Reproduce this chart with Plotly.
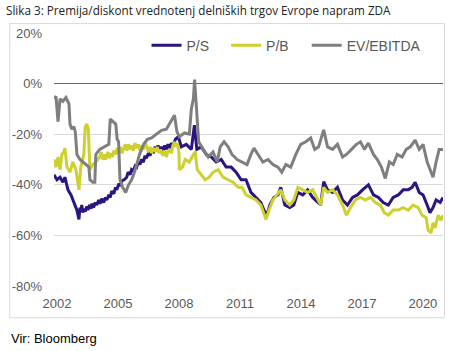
import plotly.graph_objects as go

# ---- data (decimal years, % premium/discount) ----
ev_t = [2001.85, 2001.95, 2002.05, 2002.15, 2002.29, 2002.44, 2002.59, 2002.64, 2002.73, 2002.83,
        2002.90, 2002.98, 2003.13, 2003.27, 2003.42, 2003.57, 2003.62, 2003.76, 2003.86, 2003.91,
        2004.10, 2004.30, 2004.55, 2004.62, 2004.74, 2004.89, 2004.96, 2005.03, 2005.10, 2005.23,
        2005.38, 2005.52, 2005.67, 2005.77, 2005.92, 2006.06, 2006.26, 2006.45, 2006.65, 2006.89,
        2007.14, 2007.38, 2007.58, 2007.78, 2007.90, 2008.02, 2008.27, 2008.51, 2008.61, 2008.71,
        2008.77, 2008.85, 2008.97, 2009.20, 2009.44, 2009.68, 2009.88, 2010.03, 2010.22, 2010.42,
        2010.61, 2010.86, 2011.10, 2011.35, 2011.54, 2011.69, 2011.89, 2012.13, 2012.38, 2012.62,
        2012.87, 2013.06, 2013.26, 2013.50, 2013.75, 2013.99, 2014.24, 2014.48, 2014.68, 2014.87,
        2015.12, 2015.31, 2015.56, 2015.80, 2016.05, 2016.24, 2016.49, 2016.73, 2016.93, 2017.12,
        2017.32, 2017.57, 2017.76, 2017.96, 2018.15, 2018.35, 2018.54, 2018.74, 2018.98, 2019.18,
        2019.38, 2019.62, 2019.82, 2020.01, 2020.21, 2020.35, 2020.50, 2020.65, 2020.80, 2020.99]
ev_v = [-6, -5, -15, -6, -7, -5.5, -8, -16, -18, -17,
        -19, -28, -30, -31, -32, -33, -38, -39, -39, -28,
        -26, -25, -24, -14, -15, -16, -22, -23, -38, -41,
        -43, -40, -38, -36, -32, -28, -24, -22, -21.5, -20,
        -18.5, -18, -15, -12.5, -19, -21, -19.5, -20, -10, -6,
        1.6, -8, -23, -26, -29, -27, -31, -25, -23, -25,
        -28, -30, -31, -32, -28, -25.5, -28, -31, -30, -32,
        -33, -35, -32, -33, -28, -24, -23, -21.5, -26, -25,
        -18.3, -25, -26, -24, -29, -28, -26, -24, -23, -26,
        -23.5, -28, -30, -33, -37.5, -31, -32, -28, -29, -26,
        -25, -22.3, -26, -24, -31, -34, -37, -31, -26, -26]

ps_t = [2001.85, 2002.00, 2002.15, 2002.29, 2002.39, 2002.54, 2002.69, 2002.83, 2002.98, 2003.08,
        2003.13, 2003.17, 2003.22, 2003.27, 2003.32, 2003.40, 2003.47, 2003.52, 2003.60, 2003.67,
        2003.71, 2003.80, 2003.88, 2003.96, 2004.05, 2004.12, 2004.20, 2004.30, 2004.38, 2004.45,
        2004.55, 2004.62, 2004.69, 2004.80, 2004.88, 2004.94, 2005.05, 2005.12, 2005.18, 2005.30,
        2005.43, 2005.50, 2005.60, 2005.67, 2005.75, 2005.85, 2005.92, 2006.00, 2006.08, 2006.16,
        2006.25, 2006.33, 2006.40, 2006.50, 2006.58, 2006.65, 2006.75, 2006.82, 2006.89, 2006.97,
        2007.05, 2007.14, 2007.22, 2007.30, 2007.38, 2007.46, 2007.55, 2007.63, 2007.70, 2007.83,
        2007.97, 2008.12, 2008.36, 2008.61, 2008.76, 2008.88, 2009.10, 2009.34, 2009.59,
        2009.83, 2010.08, 2010.32, 2010.57, 2010.81, 2011.06, 2011.30, 2011.54, 2011.79, 2012.03,
        2012.18, 2012.33, 2012.47, 2012.67, 2012.87, 2013.01, 2013.21, 2013.45, 2013.65, 2013.85,
        2014.09, 2014.33, 2014.58, 2014.82, 2014.97, 2015.12, 2015.31, 2015.56, 2015.80, 2016.05,
        2016.29, 2016.54, 2016.78, 2017.03, 2017.32, 2017.57, 2017.81, 2018.05, 2018.30, 2018.54,
        2018.79, 2019.03, 2019.28, 2019.47, 2019.62, 2019.82, 2020.01, 2020.21, 2020.35, 2020.50,
        2020.65, 2020.85, 2020.99]
ps_v = [-36, -38, -37, -39, -37, -42, -44, -47, -50, -53.7,
        -49, -50.5, -48, -51, -49.5, -50.5, -48.5, -50, -48, -49.5,
        -47.5, -49, -47, -48, -46, -47.5, -45.5, -47, -45, -46,
        -44, -45, -42.5, -43.5, -41, -42, -39.5, -40.5, -38.5, -38,
        -37, -35, -36, -34, -34.5, -32.5, -33, -31, -32, -30,
        -31, -28.5, -29.5, -27.5, -28.5, -26.5, -27, -25, -26, -24.5,
        -26.5, -25, -26.5, -24.5, -26, -24, -25.5, -23.5, -24.5, -22,
        -21, -25, -24, -26, -16.4, -26, -25, -28, -29,
        -31, -30, -33, -33, -35, -38, -38, -43, -45, -47,
        -50, -52, -48, -45, -44, -41, -48, -49, -48, -43,
        -44, -42, -45, -47, -48, -38.8, -42, -43, -41, -46,
        -48, -45, -44, -42, -40, -44, -45, -47, -48, -45,
        -44, -42, -42, -41, -39, -43, -44, -48, -51, -49,
        -46, -47, -45]

pb_t = [2001.85, 2001.95, 2002.05, 2002.15, 2002.24, 2002.34, 2002.39, 2002.49, 2002.64, 2002.78,
        2002.93, 2003.08, 2003.17, 2003.32, 2003.39, 2003.47, 2003.54, 2003.62, 2003.76, 2003.91,
        2004.10, 2004.18, 2004.25, 2004.32, 2004.40, 2004.50, 2004.58, 2004.65, 2004.72, 2004.80,
        2004.89, 2004.97, 2005.05, 2005.12, 2005.20, 2005.28, 2005.36, 2005.44, 2005.52, 2005.60,
        2005.67, 2005.75, 2005.83, 2005.92, 2006.00, 2006.08, 2006.16, 2006.26, 2006.34, 2006.42,
        2006.50, 2006.58, 2006.65, 2006.75, 2006.85, 2006.93, 2007.02, 2007.10, 2007.20, 2007.30,
        2007.38, 2007.46, 2007.55, 2007.63, 2007.70, 2007.78, 2007.85, 2007.92, 2008.00,
        2008.02, 2008.17, 2008.31, 2008.51, 2008.71, 2008.80, 2008.90, 2009.10, 2009.29, 2009.49,
        2009.68, 2009.93, 2010.17, 2010.42, 2010.66, 2010.91, 2011.10, 2011.30, 2011.54, 2011.79,
        2012.03, 2012.18, 2012.28, 2012.43, 2012.62, 2012.82, 2013.01, 2013.21, 2013.45, 2013.65,
        2013.85, 2014.09, 2014.33, 2014.58, 2014.82, 2014.97, 2015.12, 2015.31, 2015.56, 2015.80,
        2016.05, 2016.24, 2016.44, 2016.68, 2016.93, 2017.17, 2017.42, 2017.66, 2017.91, 2018.10,
        2018.30, 2018.54, 2018.79, 2019.03, 2019.28, 2019.52, 2019.77, 2019.96, 2020.16, 2020.26,
        2020.40, 2020.50, 2020.60, 2020.75, 2020.89, 2020.99]
pb_v = [-30, -33, -29, -34, -28, -27, -25.5, -33, -35, -31,
        -34, -42, -33, -28, -17, -16, -18, -34, -32, -31,
        -29, -27, -30, -28, -30, -27, -29.5, -27.5, -29, -26.5,
        -28, -25.5, -27.5, -25, -27.5, -26, -24, -26.5, -24, -26,
        -24.5, -26.5, -23.5, -25.5, -24, -26.5, -24.5, -26, -23.5, -25,
        -27, -25, -27.5, -25.5, -27, -25, -27.5, -26, -28.5, -26.5,
        -29, -27, -26, -27.5, -24.5, -23, -25, -23.5, -27,
        -34, -33, -30, -31, -28, -27, -34, -36, -38, -37,
        -35, -34, -37, -38, -39, -41, -41, -44, -45, -46,
        -48, -51, -53.7, -50, -46, -44, -42, -46, -48, -46,
        -41, -42, -43, -42, -46, -48, -41, -43, -42, -44,
        -48, -52, -49, -46, -45, -46, -45, -47, -48, -51,
        -52, -50, -50, -49, -50, -48, -49, -52, -53, -58,
        -59, -55, -57, -52, -54, -52]

tick_years = [2002, 2005, 2008, 2011, 2014, 2017, 2020]
tick_text = ["2002", "2005", "2008", "2011", "2014", "2017", "2020"]
y_ticks = [20, 0, -20, -40, -60, -80]
y_text = ["20%", "0%", "-20%", "-40%", "-60%", "-80%"]

names = ["P/S", "P/B", "EV/EBITDA"]
colors = ["#2c1580", "#cdd02e", "#7f7f7f"]

W, H = 461, 351
L, R, T, B = 52, 443, 33.4, 286.2
PW, PH = R - L, B - T

def px(x):
    return (x - L) / PW

def py(y):
    return (B - y) / PH

legend_ids = ["legend", "legend2", "legend3"]
legend_x = [145, 225, 306]

fig = go.Figure()
for nm, tx, vy, col, lid in zip(names, [ps_t, pb_t, ev_t], [ps_v, pb_v, ev_v], colors, legend_ids):
    fig.add_trace(go.Scatter(x=tx, y=vy, mode="lines", name=nm, legend=lid,
                             line=dict(color=col, width=3), hoverinfo="skip"))

leg_common = dict(orientation="h", xanchor="left", yanchor="middle", y=py(46),
                  font=dict(family="Liberation Sans, Arial", size=14, color="#595959"),
                  bgcolor="rgba(0,0,0,0)", itemwidth=30)

fig.update_layout(
    width=W, height=H,
    margin=dict(l=L, r=W - R, t=T, b=H - B, pad=0),
    paper_bgcolor="white", plot_bgcolor="white",
    font=dict(family="Liberation Sans, Arial", size=13, color="#595959"),
    showlegend=True,
    legend=dict(x=px(legend_x[0]), **leg_common),
    legend2=dict(x=px(legend_x[1]), **leg_common),
    legend3=dict(x=px(legend_x[2]), **leg_common),
    title=dict(text="Slika 3: Premija/diskont vrednotenj delniških trgov Evrope napram ZDA",
               xref="container", yref="container", x=6 / W, xanchor="left",
               y=1 - 10.5 / H, yanchor="middle",
               font=dict(family="Open Sans", size=11.7, color="#222222")),
)
fig.update_xaxes(range=[2001.853, 2020.99], tickvals=tick_years, ticktext=tick_text,
                 showgrid=False, zeroline=False, showline=False, ticks="",
                 ticklabelstandoff=8, tickfont=dict(size=13, color="#595959"))
fig.update_yaxes(range=[-80, 20], tickvals=y_ticks, ticktext=y_text,
                 showgrid=True, gridcolor="#d9d9d9", gridwidth=1,
                 zeroline=True, zerolinecolor="#4a64a4", zerolinewidth=1,
                 showline=False, ticks="", ticklabelstandoff=11,
                 tickfont=dict(size=13, color="#595959"))

fig.add_shape(type="rect", xref="paper", yref="paper",
              x0=px(7.5), x1=px(444.5), y0=py(318), y1=py(24),
              line=dict(color="#d9d9d9", width=1), fillcolor="rgba(0,0,0,0)", layer="below")
fig.add_annotation(text="Vir: Bloomberg", xref="paper", yref="paper",
                   x=px(7), y=py(339), xanchor="left", yanchor="middle", showarrow=False,
                   font=dict(family="Liberation Sans, Arial", size=13, color="#000000"))

fig.write_html("out.html")
